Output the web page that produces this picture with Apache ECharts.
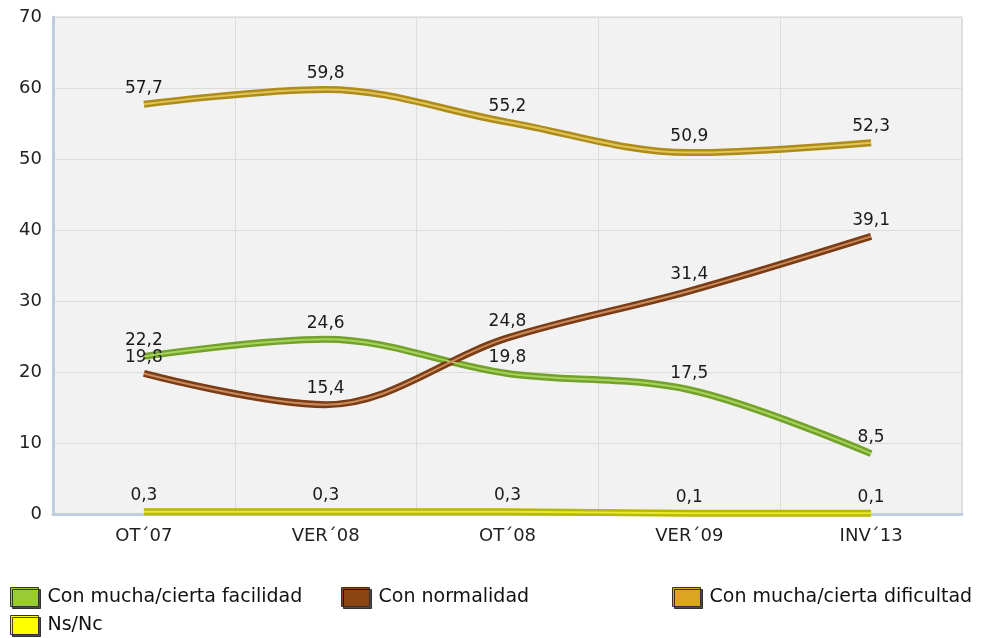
<!DOCTYPE html>
<html><head><meta charset="utf-8">
<script src="https://cdn.jsdelivr.net/npm/echarts@6/dist/echarts.min.js"></script>
<style>html,body{margin:0;padding:0;background:#fff}#c{width:990px;height:638px}</style>
</head><body><div id="c"></div>
<script>
const categories = ['OT´07', 'VER´08', 'OT´08', 'VER´09', 'INV´13'];
const seriesNames = ['Con mucha/cierta facilidad', 'Con normalidad', 'Con mucha/cierta dificultad', 'Ns/Nc'];
const facilidad = [22.2, 24.6, 19.8, 17.5, 8.5];
const normalidad = [19.8, 15.4, 24.8, 31.4, 39.1];
const dificultad = [57.7, 59.8, 55.2, 50.9, 52.3];
const nsnc = [0.3, 0.3, 0.3, 0.1, 0.1];
const yTicks = [0, 10, 20, 30, 40, 50, 60, 70];

const edgeColors = ['#73a22c', '#7a3c14', '#ad8c1c', '#b8b800'];
const coreColors = ['#a9d35c', '#c98a5c', '#e2c457', '#e8e830'];
const legendColors = ['#99cc33', '#8b4513', '#daa520', '#ffff00'];
const font = 'DejaVu Sans, Verdana, sans-serif';

function mk(i, data) {
  return {
    name: seriesNames[i], type: 'line', data: data, smooth: 0.35,
    symbol: 'circle', symbolSize: 1, showSymbol: true, color: legendColors[i],
    itemStyle: { color: 'rgba(0,0,0,0)' },
    lineStyle: { width: 7, color: edgeColors[i] },
    label: { show: true, position: 'top', distance: 7, color: '#1a1a1a', fontSize: 17, fontFamily: font,
      formatter: p => String(p.value).replace('.', ',') },
    z: 3
  };
}
function core(i, data) {
  return {
    name: seriesNames[i] + ' ', type: 'line', data: data, smooth: 0.35,
    symbol: 'none', silent: true,
    lineStyle: { width: 2, color: coreColors[i] },
    z: 4
  };
}
const legendPos = [[5, 582], [336, 582], [667, 582], [5, 610]];
const chart = echarts.init(document.getElementById('c'));
chart.setOption({
  animation: false,
  backgroundColor: '#fff',
  grid: { left: 53, right: 28, top: 17, bottom: 124, show: true, backgroundColor: '#f2f2f2', borderColor: '#c8d2dc', borderWidth: 1 },
  legend: legendPos.map((p, i) => ({
    data: [seriesNames[i]], left: p[0], top: p[1], itemWidth: 28, itemHeight: 19, itemGap: 4,
    icon: 'rect', textStyle: { fontSize: 19, fontFamily: font, color: '#111', padding: [0, 0, 0, 4] },
    itemStyle: { borderColor: '#333', borderWidth: 1, shadowColor: 'rgba(0,0,0,0.7)', shadowOffsetX: 2, shadowOffsetY: 2, color: legendColors[i] }
  })),
  xAxis: {
    type: 'category', data: categories, boundaryGap: true,
    axisLine: { lineStyle: { color: '#c0cedb', width: 3 } },
    axisTick: { show: false },
    axisLabel: { color: '#222', fontSize: 18, fontFamily: font, margin: 13 },
    splitLine: { show: true, lineStyle: { color: '#dcdcdc' } }
  },
  yAxis: {
    type: 'value', min: yTicks[0], max: yTicks[yTicks.length - 1], interval: yTicks[1] - yTicks[0],
    axisLine: { show: true, lineStyle: { color: '#c0cedb', width: 3 } },
    axisTick: { show: false },
    axisLabel: { color: '#222', fontSize: 18, fontFamily: font, margin: 11 },
    splitLine: { lineStyle: { color: '#dcdcdc' } }
  },
  series: [mk(0, facilidad), mk(1, normalidad), mk(2, dificultad), mk(3, nsnc),
           core(0, facilidad), core(1, normalidad), core(2, dificultad), core(3, nsnc)]
});
</script></body></html>
